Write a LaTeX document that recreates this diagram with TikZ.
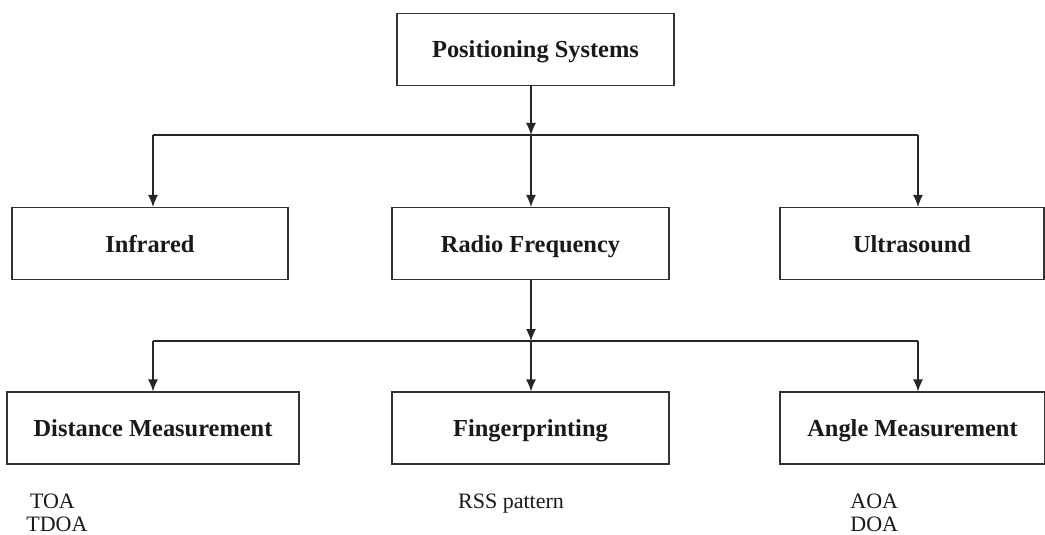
\documentclass[tikz,border=0pt]{standalone}
\usepackage{fontspec}
\setmainfont{Liberation Serif}
\usetikzlibrary{arrows.meta}
\def\catnode{\node[catbox]}

\begin{document}
\begin{tikzpicture}[x=0.5pt,y=-0.5pt,
  catbox/.style={draw=black!80,line width=0.6pt,minimum height=36pt,inner sep=0pt,
    text height=11pt,text depth=2.5pt,
    font=\fontsize{12.2}{14}\selectfont\bfseries,text=black!90},
  arr/.style={draw=black!85,line width=0.6pt,-{Latex[length=6pt,width=5pt]}},
  link/.style={draw=black!85,line width=0.6pt},
  note/.style={font=\fontsize{11}{11.5}\selectfont,text=black!90,align=left,inner sep=0pt}]
\useasboundingbox (0,0) rectangle (1045,535);
% boxes
\catnode[minimum width=138.5pt] (pos) at (535.5,49.5) {Positioning Systems};
\catnode[minimum width=138pt] (infra) at (150,243.5) {Infrared};
\catnode[minimum width=138.5pt] (radio) at (530.5,243.5) {Radio Frequency};
\catnode[minimum width=132pt] (ultra) at (912,243.5) {Ultrasound};
\catnode[minimum width=146pt] (dist) at (153,428) {Distance Measurement};
\catnode[minimum width=138.5pt] (finger) at (530.5,428) {Fingerprinting};
\catnode[minimum width=132.5pt] (angle) at (912.5,428) {Angle Measurement};
% junctions
\coordinate (j1) at (531,135);
\coordinate (jl) at (153,135);
\coordinate (jr) at (918,135);
\coordinate (j2) at (531,341);
\coordinate (kl) at (153,341);
\coordinate (kr) at (918,341);
% first level
\draw[arr] (pos.south -| j1) -- (j1);
\draw[link] (jl) -- (jr);
\draw[arr] (jl) -- (jl |- infra.north);
\draw[arr] (j1) -- (j1 |- radio.north);
\draw[arr] (jr) -- (jr |- ultra.north);
% second level
\draw[arr] (radio.south -| j2) -- (j2);
\draw[link] (kl) -- (kr);
\draw[arr] (kl) -- (kl |- dist.north);
\draw[arr] (j2) -- (j2 |- finger.north);
\draw[arr] (kr) -- (kr |- angle.north);
% methods
\node[note,anchor=north west] (tdoa) at (26,494) {\,TOA\\TDOA};
\node[note,anchor=base] (rss) at (511,508) {RSS pattern};
\node[note,anchor=north west] (doa) at (850,494) {AOA\\DOA};
\end{tikzpicture}
\end{document}
